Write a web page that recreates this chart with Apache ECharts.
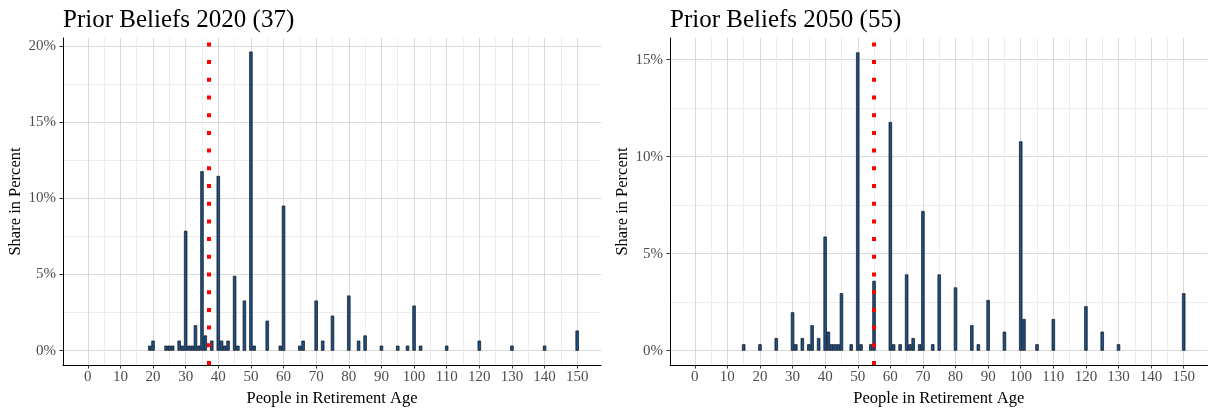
<!DOCTYPE html>
<html>
<head>
<meta charset="utf-8">
<title>Prior Beliefs</title>
<script src="https://cdn.jsdelivr.net/npm/echarts@6.0.0/dist/echarts.min.js"></script>
<style>
  html, body { margin: 0; padding: 0; background: #fff; }
  #chart { width: 1211px; height: 408px; }
</style>
</head>
<body>
<div id="chart"></div>
<script>
// share of answers (%) per stated number of people in retirement age
const ages2020 = [19, 20, 24, 25, 26, 28, 29, 30, 31, 32, 33, 34, 35, 36, 38, 40, 41, 42, 43, 45, 46, 48, 50, 51, 55, 59, 60, 65, 66, 70, 72, 75, 80, 83, 85, 90, 95, 98, 100, 102, 110, 120, 130, 140, 150]
const share2020 = [0.33, 0.66, 0.33, 0.33, 0.33, 0.66, 0.33, 7.87, 0.33, 0.33, 1.67, 0.33, 11.78, 1.0, 0.66, 11.47, 0.66, 0.33, 0.66, 4.91, 0.33, 3.29, 19.63, 0.33, 1.97, 0.33, 9.52, 0.33, 0.66, 3.29, 0.66, 2.3, 3.62, 0.66, 1.0, 0.33, 0.33, 0.33, 2.96, 0.33, 0.33, 0.66, 0.33, 0.33, 1.32]
const median2020 = 37

const ages2050 = [15, 20, 25, 30, 31, 33, 35, 36, 38, 40, 41, 42, 43, 44, 45, 48, 50, 51, 54, 55, 60, 61, 63, 65, 66, 67, 69, 70, 73, 75, 80, 85, 87, 90, 95, 100, 101, 105, 110, 120, 125, 130, 150]
const share2050 = [0.33, 0.33, 0.65, 1.98, 0.33, 0.65, 0.33, 1.31, 0.65, 5.88, 0.98, 0.33, 0.33, 0.33, 2.96, 0.33, 15.38, 0.33, 0.33, 3.6, 11.79, 0.33, 0.33, 3.93, 0.33, 0.65, 0.33, 7.2, 0.33, 3.93, 3.26, 1.31, 0.33, 2.61, 0.98, 10.79, 1.63, 0.33, 1.63, 2.29, 0.98, 0.33, 2.96]
const median2050 = 55

// axis breaks
const xTicks = [0, 10, 20, 30, 40, 50, 60, 70, 80, 90, 100, 110, 120, 130, 140, 150]
const xMinor = [5, 15, 25, 35, 45, 55, 65, 75, 85, 95, 105, 115, 125, 135, 145]
const yTicks2020 = [0, 5, 10, 15, 20]
const yMinor2020 = [2.5, 7.5, 12.5, 17.5]
const yTicks2050 = [0, 5, 10, 15]
const yMinor2050 = [2.5, 7.5, 12.5]

const serif = 'Liberation Serif'
const tickColor = '#4d4d4d'
const majorGrid = '#d9d9d9'
const minorGrid = '#ededed'

const chart = echarts.init(document.getElementById('chart'), null, { renderer: 'canvas' })

function panel(idx, p) {
  const g = idx
  const xAxes = [{
    type: 'value', gridIndex: g, min: -7.6, max: 157.3,
    name: 'People in Retirement Age', nameLocation: 'middle', nameGap: 22,
    nameTextStyle: { fontFamily: serif, fontSize: 16.5, color: '#000' },
    axisLine: { show: true, onZero: false, lineStyle: { color: '#000', width: 1 } },
    axisTick: { show: true, length: 3.5, customValues: xTicks, lineStyle: { color: '#333' } },
    axisLabel: { customValues: xTicks, margin: 5, fontFamily: serif, fontSize: 15, color: tickColor },
    splitLine: { show: true, lineStyle: { color: majorGrid, width: 1 } }
  }, {
    // minor grid only
    type: 'value', gridIndex: g, min: -7.6, max: 157.3,
    axisLine: { show: false },
    axisTick: { show: false, customValues: xMinor },
    axisLabel: { show: false, customValues: xMinor },
    splitLine: { show: true, lineStyle: { color: minorGrid, width: 1 } }
  }]
  const yAxes = [{
    type: 'value', gridIndex: g, min: p.ymin, max: p.ymax,
    name: 'Share in Percent', nameLocation: 'middle', nameGap: 39,
    nameTextStyle: { fontFamily: serif, fontSize: 16.5, color: '#000' },
    axisLine: { show: true, onZero: false, lineStyle: { color: '#000', width: 1 } },
    axisTick: { show: true, length: 3.5, customValues: p.yTicks, lineStyle: { color: '#333' } },
    axisLabel: { customValues: p.yTicks, margin: 7, formatter: '{value}%', fontFamily: serif, fontSize: 15, color: tickColor },
    splitLine: { show: true, lineStyle: { color: majorGrid, width: 1 } }
  }, {
    type: 'value', gridIndex: g, min: p.ymin, max: p.ymax,
    axisLine: { show: false },
    axisTick: { show: false, customValues: p.yMinor },
    axisLabel: { show: false, customValues: p.yMinor },
    splitLine: { show: true, lineStyle: { color: minorGrid, width: 1 } }
  }]
  const series = {
    type: 'bar',
    xAxisIndex: idx * 2, yAxisIndex: idx * 2,
    data: p.ages.map((a, i) => [a, p.shares[i]]),
    barWidth: 3.4,
    itemStyle: { color: '#1b5089', borderColor: '#111', borderWidth: 0.7 },
    markLine: {
      silent: true, symbol: 'none', animation: false,
      label: { show: false },
      lineStyle: { color: '#ff0000', type: [4, 13.7], width: 4, cap: 'butt' },
      data: [{ xAxis: p.median }]
    }
  }
  return { xAxes, yAxes, series }
}

const left = panel(0, { ages: ages2020, shares: share2020, median: median2020, ymin: -0.94, ymax: 20.52, yTicks: yTicks2020, yMinor: yMinor2020 })
const right = panel(1, { ages: ages2050, shares: share2050, median: median2050, ymin: -0.74, ymax: 16.12, yTicks: yTicks2050, yMinor: yMinor2050 })

chart.setOption({
  animation: false,
  backgroundColor: '#fff',
  title: [
    { text: 'Prior Beliefs 2020 (' + median2020 + ')', left: 58, top: 3, textStyle: { fontFamily: serif, fontSize: 25, fontWeight: 'normal', color: '#000' } },
    { text: 'Prior Beliefs 2050 (' + median2050 + ')', left: 665, top: 3, textStyle: { fontFamily: serif, fontSize: 25, fontWeight: 'normal', color: '#000' } }
  ],
  grid: [
    { left: 63, right: 610, top: 38, bottom: 43, outerBoundsMode: 'none' },
    { left: 670, right: 3.5, top: 38, bottom: 43, outerBoundsMode: 'none' }
  ],
  xAxis: left.xAxes.concat(right.xAxes),
  yAxis: left.yAxes.concat(right.yAxes),
  series: [left.series, right.series]
})
</script>
</body>
</html>
